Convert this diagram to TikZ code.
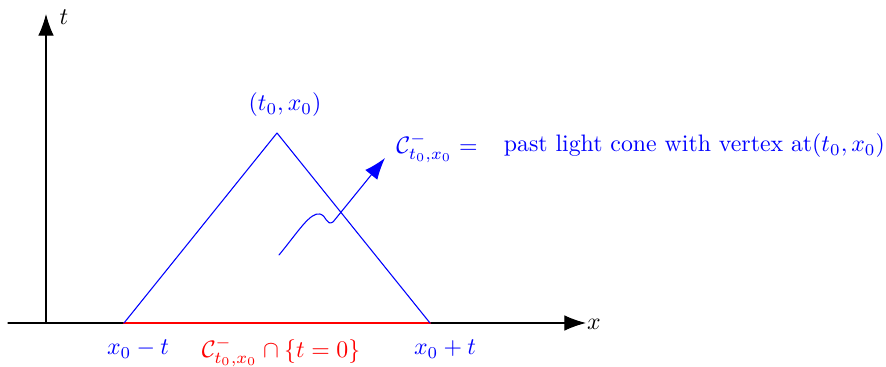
\documentclass[tikz,border=0pt]{standalone}
\usepackage{amsmath,amssymb}
\usetikzlibrary{arrows.meta}
\tikzset{
  every picture/.append style={line cap=round,line join=round},
  cone edge/.style={blue,line width=0.45pt},
  cone base/.style={red,line width=1pt},
  axis arrow/.style={line width=0.45pt,-{Latex[length=3.2mm,width=2.3mm]}},
  cone arrow/.style={blue,line width=0.45pt,-{Latex[length=3.2mm,width=2.3mm]}},
  cone label/.style={blue,inner sep=1pt}
}
\begin{document}
\begin{tikzpicture}[x=0.42pt,y=-0.42pt]
    \useasboundingbox (0,0) rectangle (886,367);
    \coordinate (origin) at (46,323);
    \coordinate (xstart) at (8,323);
    \coordinate (xend) at (586,323);
    \coordinate (tend) at (46,14);
    \coordinate (apex) at (277,133);
    \coordinate (left) at (124,323);
    \coordinate (right) at (430,323);
    \coordinate (wstart) at (279,255);
    \coordinate (wend) at (385,158);
    \draw[axis arrow] (xstart) -- (xend);
    \draw[axis arrow] (origin) -- (tend);
    \node[inner sep=1pt] (xlab) at (594,324) {$x$};
    \node (tlab) at (64,17) {$t$};
    \draw[cone base] (left) -- (right);
    \draw[cone edge] (left) -- (apex) -- (right);
    \node[cone label] (apexlab) at (285,105) {$(t_0,x_0)$};
    \node[cone label] (leftlab) at (138,349) {$x_0-t$};
    \node[cone label] (rightlab) at (445,349) {$x_0+t$};
    \node[red,inner sep=1pt] (baselab) at (281,352) {$\mathcal{C}^-_{t_0,x_0}\cap\{t=0\}$};
    \node[cone label] (conelab) at (437,148) {$\mathcal{C}^-_{t_0,x_0}=$};
    \node[cone label,anchor=west] (textlab) at (501,146) {past light cone with vertex at$(t_0,x_0)$};
    \draw[cone arrow] (wstart) .. controls (298,232) and (310,212) .. (320,214)
      .. controls (327,216) and (326,226) .. (333,222) -- (wend);
  \end{tikzpicture}
\end{document}
